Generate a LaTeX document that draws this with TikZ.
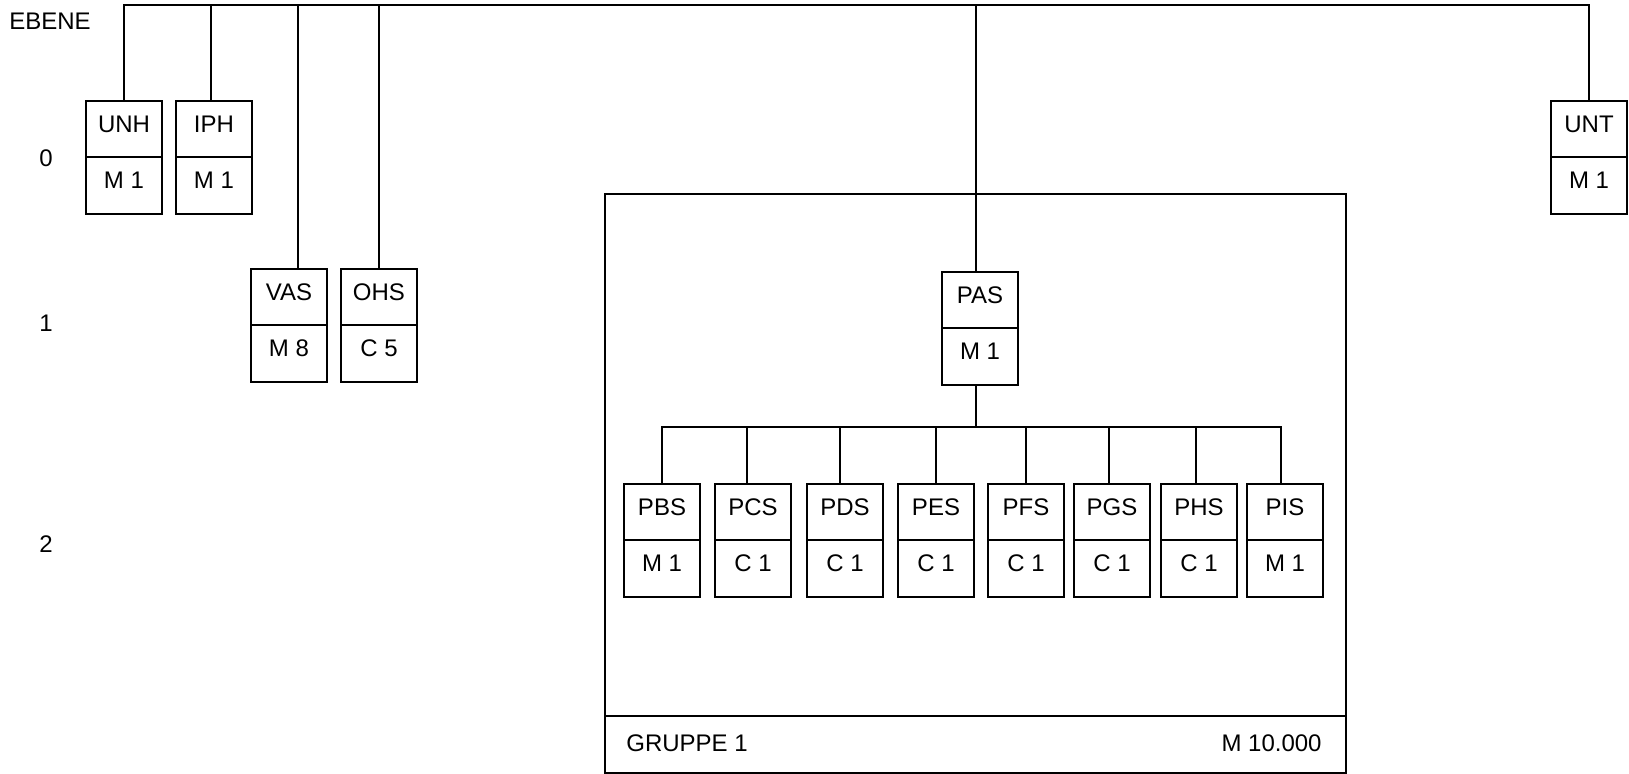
\documentclass[tikz,border=0pt]{standalone}
\usepackage{fontspec}
\setmainfont{Liberation Sans}
\usetikzlibrary{positioning}

\tikzset{
  txt/.style={font=\fontsize{12}{14}\selectfont},
  cell/.style={draw, txt, line width=1pt, minimum width=38pt, minimum height=28.25pt,
    inner sep=0pt, outer sep=0pt, text depth=5pt},
  lbl/.style={txt, inner sep=0pt},
  wire/.style={line width=1pt}
}

\begin{document}
\begin{tikzpicture}[x=0.5pt, y=-0.5pt]
  \useasboundingbox (0,0) rectangle (1629,774);
  % levels
  \node[lbl] (ebene) at (50,21) {EBENE};
  \node[lbl] (lev0) at (46,158) {0};
  \node[lbl] (lev1) at (46,323) {1};
  \node[lbl] (lev2) at (46,544) {2};
  % level 0
  \node[cell] (unh) at (124,129) {UNH};
  \node[cell, below=0pt of unh] (unhm) {M 1};
  \node[cell] (iph) at (214,129) {IPH};
  \node[cell, below=0pt of iph] (iphm) {M 1};
  \node[cell] (unt) at (1589,129) {UNT};
  \node[cell, below=0pt of unt] (untm) {M 1};
  % level 1
  \node[cell] (vas) at (289,297) {VAS};
  \node[cell, below=0pt of vas] (vasm) {M 8};
  \node[cell] (ohs) at (379,297) {OHS};
  \node[cell, below=0pt of ohs] (ohsm) {C 5};
  % group frame
  \draw[wire] (605,194) rectangle (1346,773);
  \draw[wire] (605,716) -- (1346,716);
  \node[lbl, anchor=west] (grp) at (626,743) {GRUPPE 1};
  \node[lbl, anchor=east] (grpm) at (1322,743) {M 10.000};
  \node[cell] (pas) at (980,300) {PAS};
  \node[cell, below=0pt of pas] (pasm) {M 1};
  % level 2
  \node[cell] (pbs) at (662,512) {PBS};
  \node[cell, below=0pt of pbs] (pbsm) {M 1};
  \node[cell] (pcs) at (753,512) {PCS};
  \node[cell, below=0pt of pcs] (pcsm) {C 1};
  \node[cell] (pds) at (845,512) {PDS};
  \node[cell, below=0pt of pds] (pdsm) {C 1};
  \node[cell] (pes) at (936,512) {PES};
  \node[cell, below=0pt of pes] (pesm) {C 1};
  \node[cell] (pfs) at (1026,512) {PFS};
  \node[cell, below=0pt of pfs] (pfsm) {C 1};
  \node[cell] (pgs) at (1112,512) {PGS};
  \node[cell, below=0pt of pgs] (pgsm) {C 1};
  \node[cell] (phs) at (1199,512) {PHS};
  \node[cell, below=0pt of phs] (phsm) {C 1};
  \node[cell] (pis) at (1285,512) {PIS};
  \node[cell, below=0pt of pis] (pism) {M 1};
  % top bus
  \coordinate (bus) at (0,5);
  \draw[wire] (unh.north) -- (unh.north |- bus) -- (unt.north |- bus) -- (unt.north);
  \draw[wire] ([xshift=-1.5pt]iph.north) -- ([xshift=-1.5pt]iph.north |- bus);
  \draw[wire] ([xshift=4.5pt]vas.north) -- ([xshift=4.5pt]vas.north |- bus);
  \draw[wire] (ohs.north) -- (ohs.north |- bus);
  \draw[wire] ([xshift=-2pt]pas.north) -- ([xshift=-2pt]pas.north |- bus);
  % group bus
  \coordinate (pbus) at (0,427);
  \draw[wire] ([xshift=-2pt]pasm.south) -- ([xshift=-2pt]pasm.south |- pbus);
  \draw[wire] (pbs.north) -- (pbs.north |- pbus) -- ([xshift=-2pt]pis.north |- pbus) -- ([xshift=-2pt]pis.north);
  \draw[wire] ([xshift=-3pt]pcs.north) -- ([xshift=-3pt]pcs.north |- pbus);
  \draw[wire] ([xshift=-2.5pt]pds.north) -- ([xshift=-2.5pt]pds.north |- pbus);
  \draw[wire] (pes.north) -- (pes.north |- pbus);
  \draw[wire] (pfs.north) -- (pfs.north |- pbus);
  \draw[wire] ([xshift=-1.5pt]pgs.north) -- ([xshift=-1.5pt]pgs.north |- pbus);
  \draw[wire] ([xshift=-1.5pt]phs.north) -- ([xshift=-1.5pt]phs.north |- pbus);
\end{tikzpicture}
\end{document}
